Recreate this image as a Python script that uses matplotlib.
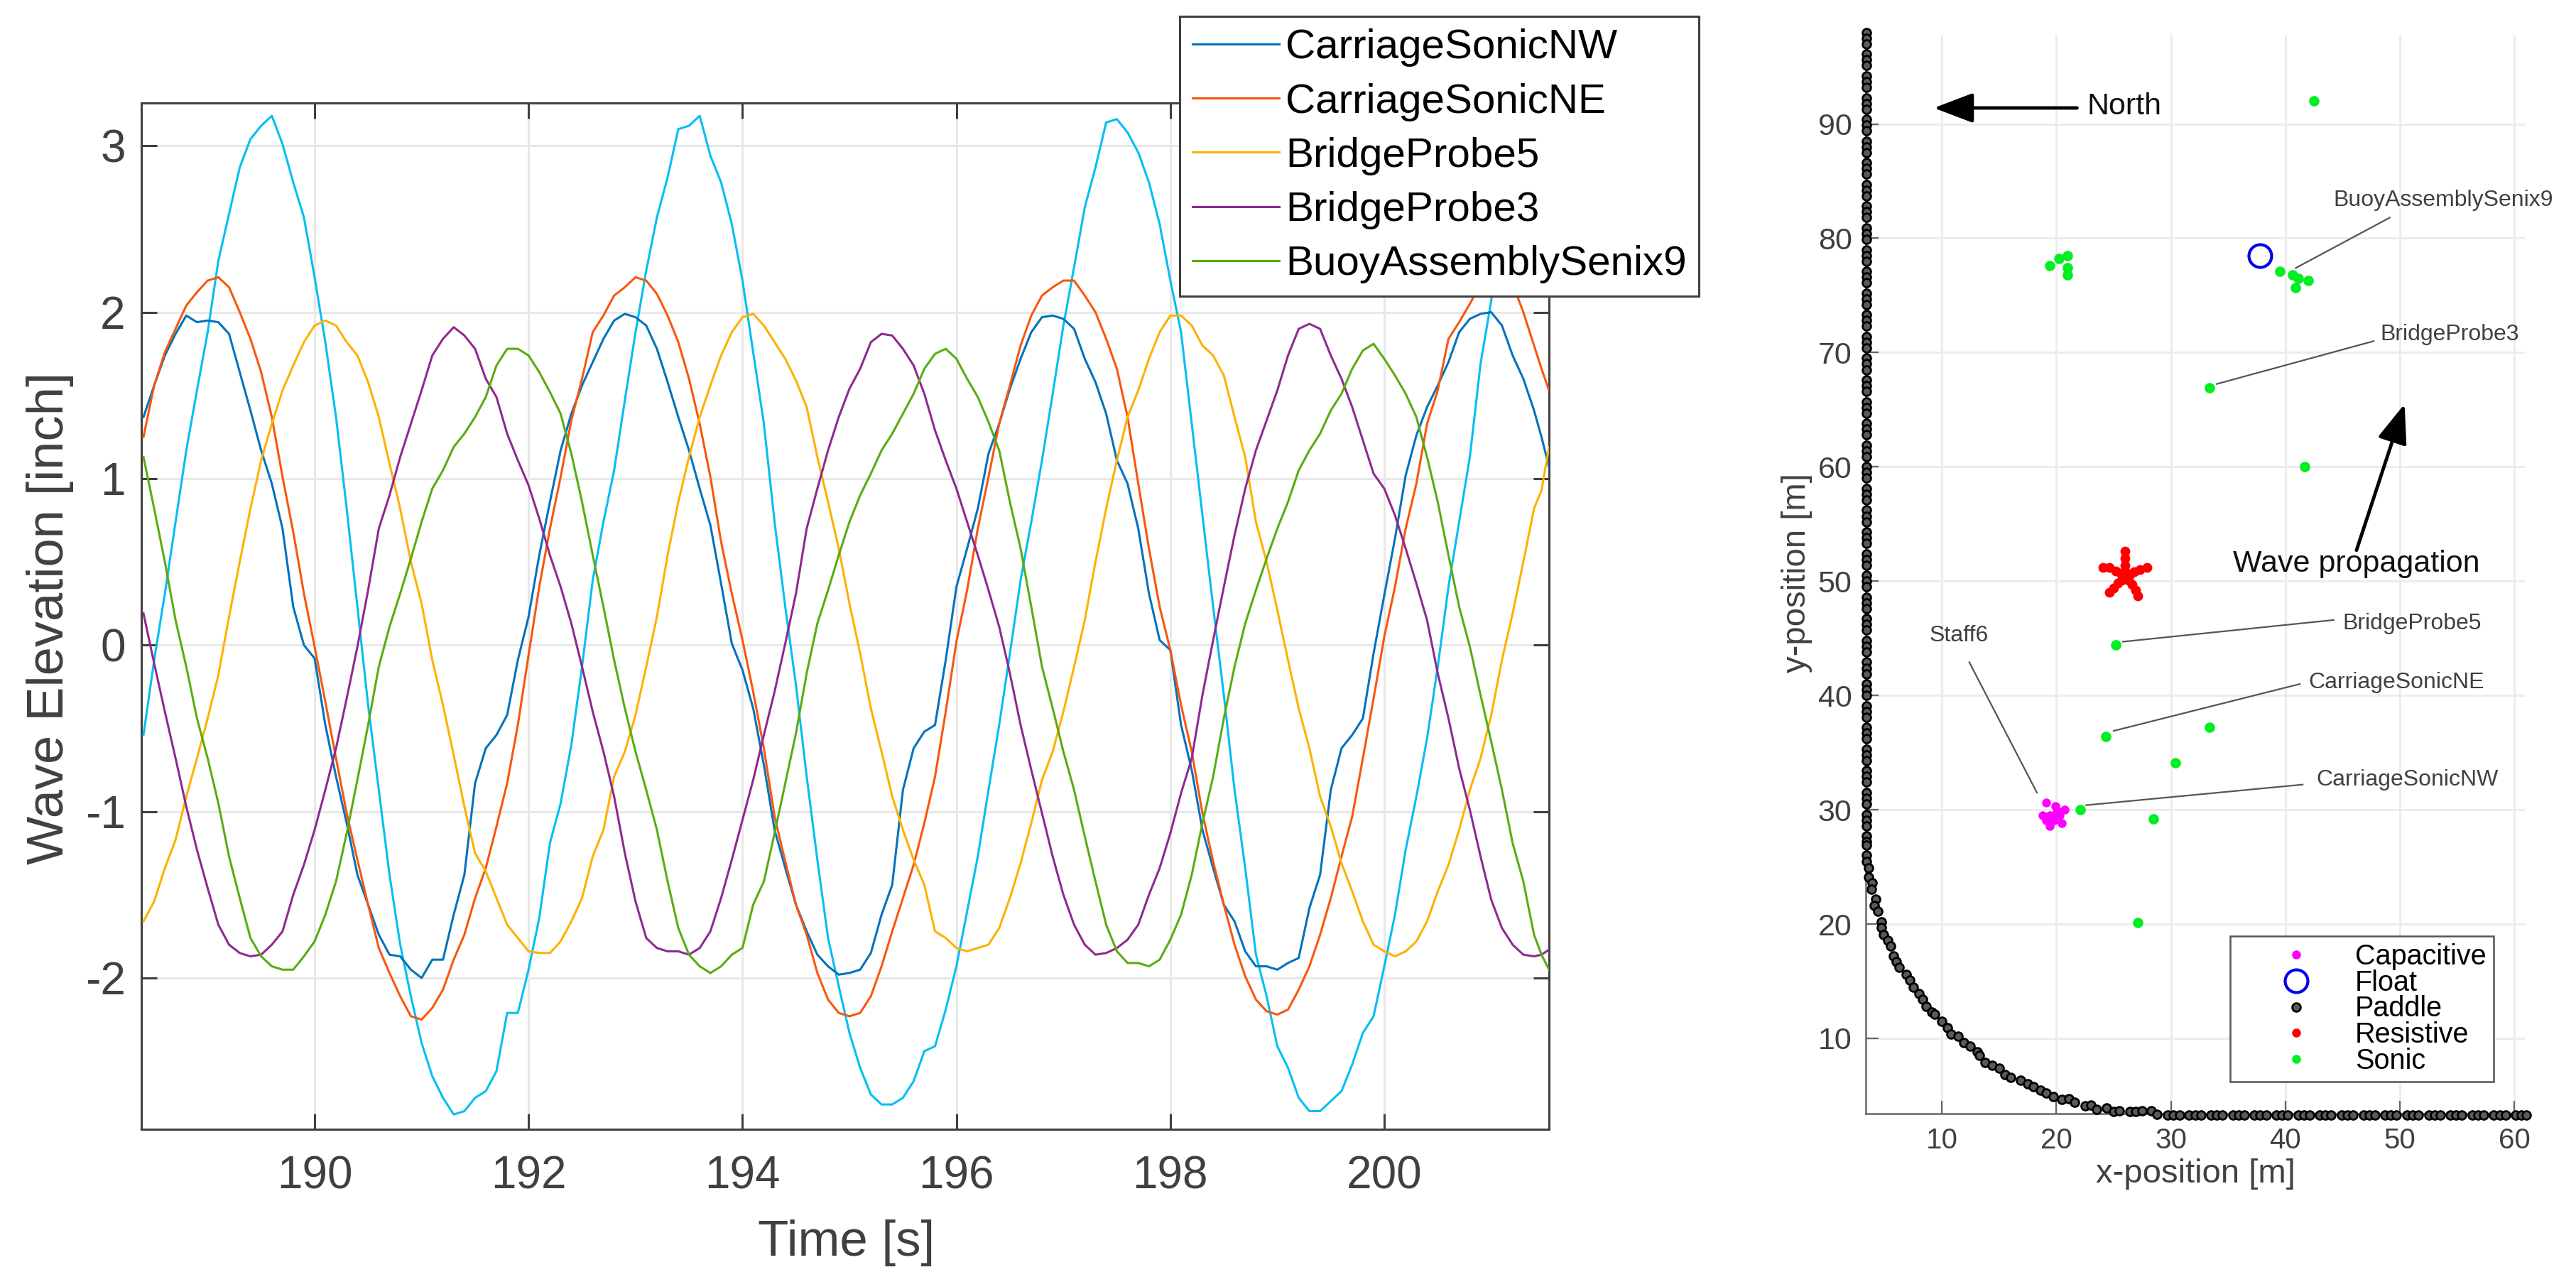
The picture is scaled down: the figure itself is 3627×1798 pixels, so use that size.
import matplotlib
matplotlib.use('Agg')
import matplotlib.pyplot as plt
from matplotlib.lines import Line2D

W, H = 3627, 1798
GRAY = '#404040'
GRID = '#e8e8e8'

plt.rcParams['font.family'] = ['Liberation Sans', 'DejaVu Sans']
plt.rcParams['axes.unicode_minus'] = False

# left panel: *_a on the even 0.2 s grid, *_b halfway between
t_a = [188.4, 188.6, 188.8, 189.0, 189.2, 189.4, 189.6, 189.8, 190.0, 190.2, 190.4, 190.6, 190.8, 191.0, 191.2, 191.4, 191.6, 191.8,
       192.0, 192.2, 192.4, 192.6, 192.8, 193.0, 193.2, 193.4, 193.6, 193.8, 194.0, 194.2, 194.4, 194.6, 194.8, 195.0, 195.2, 195.4, 195.6, 195.8,
       196.0, 196.2, 196.4, 196.6, 196.8, 197.0, 197.2, 197.4, 197.6, 197.8, 198.0, 198.2, 198.4, 198.6, 198.8, 199.0, 199.2, 199.4, 199.6, 199.8,
       200.0, 200.2, 200.4, 200.6, 200.8, 201.0, 201.2, 201.4, 201.54]
t_b = [188.5, 188.7, 188.9, 189.1, 189.3, 189.5, 189.7, 189.9, 190.1, 190.3, 190.5, 190.7, 190.9, 191.1, 191.3, 191.5, 191.7, 191.9,
       192.1, 192.3, 192.5, 192.7, 192.9, 193.1, 193.3, 193.5, 193.7, 193.9, 194.1, 194.3, 194.5, 194.7, 194.9, 195.1, 195.3, 195.5, 195.7, 195.9,
       196.1, 196.3, 196.5, 196.7, 196.9, 197.1, 197.3, 197.5, 197.7, 197.9, 198.1, 198.3, 198.5, 198.7, 198.9, 199.1, 199.3, 199.5, 199.7, 199.9,
       200.1, 200.3, 200.5, 200.7, 200.9, 201.1, 201.3, 201.47]

sonic_nw_a = [1.37, 1.74, 1.98, 1.95, 1.87, 1.41, 0.97, 0.23, -0.08, -0.79, -1.38, -1.74, -1.87, -2.0, -1.89, -1.38, -0.62, -0.42,
              0.17, 0.86, 1.39, 1.70, 1.95, 1.97, 1.78, 1.37, 0.94, 0.37, -0.15, -0.72, -1.34, -1.72, -1.93, -1.97, -1.85, -1.44, -0.62, -0.48,
              0.35, 0.82, 1.33, 1.72, 1.97, 1.96, 1.72, 1.39, 0.97, 0.31, -0.03, -0.75, -1.34, -1.66, -1.93, -1.95, -1.88, -1.38, -0.62, -0.44,
              0.30, 1.02, 1.43, 1.70, 1.96, 2.00, 1.74, 1.41, 1.07]
sonic_nw_b = [1.56, 1.87, 1.94, 1.94, 1.64, 1.17, 0.70, 0.00, -0.48, -1.07, -1.56, -1.86, -1.95, -1.89, -1.62, -0.83, -0.54, -0.09,
              0.54, 1.17, 1.56, 1.84, 1.99, 1.92, 1.58, 1.17, 0.72, 0.01, -0.38, -1.11, -1.56, -1.86, -1.98, -1.95, -1.62, -0.87, -0.52, -0.09,
              0.58, 1.15, 1.54, 1.88, 1.98, 1.90, 1.58, 1.11, 0.70, 0.03, -0.48, -1.11, -1.56, -1.84, -1.93, -1.91, -1.58, -0.87, -0.54, -0.05,
              0.64, 1.26, 1.56, 1.88, 1.99, 1.92, 1.60, 1.25]
sonic_ne_a = [1.25, 1.76, 2.04, 2.19, 2.15, 1.84, 1.37, 0.68, -0.01, -0.68, -1.29, -1.82, -2.11, -2.25, -2.07, -1.74, -1.34, -0.83,
              -0.06, 0.70, 1.35, 1.88, 2.10, 2.21, 2.11, 1.82, 1.33, 0.62, 0.03, -0.62, -1.30, -1.74, -2.13, -2.23, -2.11, -1.72, -1.32, -0.79,
              0.02, 0.70, 1.33, 1.80, 2.10, 2.19, 2.10, 1.84, 1.37, 0.58, -0.03, -0.64, -1.30, -1.80, -2.13, -2.22, -2.07, -1.74, -1.27, -0.68,
              0.05, 0.70, 1.33, 1.84, 2.05, 2.20, 2.17, 1.80, 1.53]
sonic_ne_b = [1.56, 1.90, 2.12, 2.21, 2.00, 1.64, 1.01, 0.31, -0.34, -1.01, -1.56, -1.97, -2.23, -2.18, -1.89, -1.52, -1.09, -0.48,
              0.35, 1.01, 1.60, 1.98, 2.15, 2.19, 1.98, 1.60, 1.01, 0.31, -0.28, -1.03, -1.56, -1.97, -2.21, -2.21, -1.93, -1.52, -1.07, -0.40,
              0.33, 1.01, 1.56, 1.98, 2.15, 2.19, 2.00, 1.66, 0.97, 0.23, -0.36, -1.01, -1.56, -1.99, -2.20, -2.19, -1.93, -1.52, -1.03, -0.32,
              0.35, 0.97, 1.53, 1.94, 2.17, 2.27, 2.00, 1.66]
probe5_a = [-1.66, -1.34, -0.91, -0.44, 0.17, 0.82, 1.33, 1.68, 1.92, 1.92, 1.74, 1.37, 0.82, 0.25, -0.36, -0.97, -1.36, -1.68,
            -1.84, -1.85, -1.66, -1.27, -0.79, -0.42, 0.17, 0.86, 1.37, 1.74, 1.97, 1.92, 1.72, 1.43, 0.86, 0.25, -0.38, -0.91, -1.29, -1.72,
            -1.82, -1.82, -1.70, -1.31, -0.81, -0.40, 0.15, 0.82, 1.37, 1.72, 1.98, 1.92, 1.74, 1.37, 0.74, 0.21, -0.38, -0.91, -1.31, -1.66,
            -1.84, -1.84, -1.66, -1.32, -0.87, -0.42, 0.19, 0.82, 1.19]
probe5_b = [-1.54, -1.17, -0.68, -0.18, 0.50, 1.11, 1.53, 1.82, 1.95, 1.82, 1.58, 1.09, 0.50, -0.09, -0.66, -1.25, -1.52, -1.76,
            -1.85, -1.78, -1.52, -1.11, -0.64, -0.13, 0.54, 1.13, 1.56, 1.88, 1.99, 1.82, 1.59, 1.13, 0.58, -0.05, -0.64, -1.11, -1.44, -1.76,
            -1.84, -1.80, -1.52, -1.07, -0.64, -0.13, 0.50, 1.11, 1.53, 1.88, 1.98, 1.80, 1.62, 1.13, 0.50, -0.09, -0.62, -1.09, -1.48, -1.80,
            -1.87, -1.78, -1.48, -1.11, -0.68, -0.09, 0.50, 0.93]
probe3_a = [0.19, -0.40, -0.97, -1.46, -1.80, -1.87, -1.80, -1.50, -1.11, -0.62, -0.01, 0.70, 1.13, 1.53, 1.84, 1.86, 1.60, 1.27,
            0.96, 0.54, 0.13, -0.40, -0.91, -1.54, -1.82, -1.84, -1.82, -1.52, -1.05, -0.54, 0.01, 0.70, 1.17, 1.54, 1.82, 1.86, 1.68, 1.29,
            0.94, 0.54, 0.11, -0.48, -1.01, -1.50, -1.80, -1.85, -1.77, -1.50, -1.13, -0.68, 0.03, 0.66, 1.17, 1.53, 1.90, 1.90, 1.60, 1.23,
            0.94, 0.58, 0.15, -0.44, -0.99, -1.53, -1.80, -1.87, -1.83]
probe3_b = [-0.11, -0.68, -1.23, -1.68, -1.85, -1.86, -1.72, -1.32, -0.87, -0.32, 0.33, 0.90, 1.33, 1.74, 1.91, 1.78, 1.49, 1.11,
            0.76, 0.35, -0.13, -0.64, -1.25, -1.76, -1.84, -1.86, -1.72, -1.29, -0.81, -0.28, 0.31, 0.94, 1.37, 1.66, 1.87, 1.78, 1.51, 1.11,
            0.74, 0.33, -0.17, -0.75, -1.27, -1.68, -1.86, -1.82, -1.68, -1.34, -0.89, -0.30, 0.35, 0.94, 1.35, 1.74, 1.93, 1.74, 1.43, 1.03,
            0.78, 0.37, -0.17, -0.74, -1.27, -1.70, -1.86, -1.86]
senix9_a = [1.13, 0.50, -0.13, -0.68, -1.27, -1.76, -1.93, -1.95, -1.78, -1.42, -0.81, -0.13, 0.31, 0.74, 1.05, 1.27, 1.49, 1.78,
            1.74, 1.52, 1.15, 0.54, -0.09, -0.64, -1.11, -1.70, -1.93, -1.93, -1.82, -1.42, -0.83, -0.17, 0.33, 0.74, 1.03, 1.27, 1.51, 1.75,
            1.72, 1.49, 1.17, 0.58, -0.13, -0.64, -1.15, -1.68, -1.91, -1.93, -1.77, -1.38, -0.79, -0.13, 0.33, 0.70, 1.05, 1.27, 1.51, 1.77,
            1.72, 1.51, 1.13, 0.54, -0.01, -0.58, -1.19, -1.74, -1.95]
senix9_b = [0.82, 0.15, -0.44, -0.95, -1.52, -1.87, -1.95, -1.87, -1.62, -1.13, -0.48, 0.11, 0.52, 0.94, 1.19, 1.37, 1.68, 1.78,
            1.64, 1.39, 0.86, 0.23, -0.38, -0.87, -1.42, -1.86, -1.97, -1.86, -1.56, -1.13, -0.53, 0.13, 0.54, 0.90, 1.17, 1.39, 1.66, 1.78,
            1.60, 1.34, 0.86, 0.23, -0.38, -0.87, -1.42, -1.84, -1.91, -1.89, -1.62, -1.07, -0.44, 0.13, 0.52, 0.86, 1.17, 1.41, 1.66, 1.81,
            1.62, 1.37, 0.86, 0.23, -0.30, -0.87, -1.42, -1.86]
staff6_a = [-0.54, 0.31, 1.17, 1.88, 2.59, 3.04, 3.18, 2.78, 2.21, 1.37, 0.23, -0.87, -1.80, -2.39, -2.72, -2.80, -2.68, -2.21,
            -1.95, -1.19, -0.60, 0.39, 1.05, 1.88, 2.57, 3.10, 3.18, 2.78, 2.19, 1.33, 0.23, -0.79, -1.76, -2.33, -2.70, -2.76, -2.62, -2.41,
            -1.93, -1.27, -0.48, 0.39, 1.11, 1.92, 2.63, 3.14, 3.08, 2.78, 2.19, 1.33, 0.23, -0.87, -1.86, -2.41, -2.72, -2.80, -2.68, -2.33,
            -1.93, -1.23, -0.56, 0.35, 1.13, 2.07, 2.80, 3.10, 3.18]
staff6_b = [-0.09, 0.74, 1.53, 2.31, 2.87, 3.12, 3.01, 2.57, 1.82, 0.82, -0.36, -1.38, -2.11, -2.59, -2.82, -2.72, -2.56, -2.21,
            -1.64, -0.95, -0.13, 0.74, 1.47, 2.25, 2.81, 3.12, 2.94, 2.53, 1.76, 0.74, -0.24, -1.29, -2.05, -2.54, -2.76, -2.72, -2.44, -2.19,
            -1.60, -0.87, -0.05, 0.74, 1.51, 2.27, 2.87, 3.16, 2.96, 2.53, 1.88, 0.78, -0.30, -1.34, -2.11, -2.54, -2.80, -2.74, -2.52, -2.23,
            -1.62, -0.91, -0.13, 0.74, 1.69, 2.60, 3.00, 3.15]

wave_names = ['CarriageSonicNW', 'CarriageSonicNE', 'BridgeProbe5', 'BridgeProbe3', 'BuoyAssemblySenix9']
wave_colors = ['#0072BD', '#F9560E', '#FDB100', '#8E2A90', '#5AAB12']
staff6_color = '#00BFF3'
x_ticks = [190, 192, 194, 196, 198, 200]
y_ticks = [-2, -1, 0, 1, 2, 3]

# right panel, gauge positions in metres
capacitive_x = [19.1, 19.9, 20.7, 20.2, 18.8, 19.4, 20.3, 19.1, 19.8, 20.5, 19.4, 20.0]
capacitive_y = [30.6, 30.3, 30.0, 29.8, 29.5, 29.5, 29.5, 29.1, 29.1, 28.8, 28.6, 29.7]
float_x = [37.8]
float_y = [78.5]
resistive_x = [26.0, 26.0, 26.0, 26.0, 26.0, 27.9, 27.3, 26.8, 26.4, 24.1, 24.6, 25.2, 25.6, 27.1, 26.9, 26.6, 26.3, 24.6, 25.0, 25.4, 25.7]
resistive_y = [50.5, 52.6, 52.0, 51.4, 50.9, 51.2, 51.0, 50.8, 50.6, 51.2, 51.2, 50.9, 50.7, 48.7, 49.2, 49.7, 50.1, 49.0, 49.4, 49.8, 50.1]
sonic_x = [42.5, 19.4, 20.2, 21.0, 21.0, 21.0, 39.5, 40.6, 41.1, 42.0, 40.9, 33.4, 41.7, 25.2, 24.3, 33.4, 30.4, 22.1, 28.5, 27.1]
sonic_y = [92.0, 77.6, 78.2, 78.5, 77.4, 76.8, 77.1, 76.8, 76.5, 76.3, 75.7, 66.9, 60.0, 44.4, 36.4, 37.2, 34.1, 30.0, 29.2, 20.1]
wall_y = [98.0, 97.5, 97.0, 96.1, 95.6, 95.1, 94.2, 93.7, 93.2, 92.3, 91.8, 91.3, 90.4, 89.9, 89.4, 88.5, 88.0, 87.5, 86.6, 86.1, 85.6,
          84.7, 84.2, 83.7, 82.8, 82.3, 81.8, 80.9, 80.4, 79.9, 79.0, 78.5, 78.0, 77.1, 76.6, 76.1, 75.2, 74.7, 74.2, 73.3, 72.8, 72.3,
          71.4, 70.9, 70.4, 69.5, 69.0, 68.5, 67.6, 67.1, 66.6, 65.7, 65.2, 64.7, 63.8, 63.3, 62.8, 61.9, 61.4, 60.9, 60.0, 59.5, 59.0,
          58.1, 57.6, 57.1, 56.2, 55.7, 55.2, 54.3, 53.8, 53.3, 52.4, 51.9, 51.4, 50.5, 50.0, 49.5, 48.6, 48.1, 47.6, 46.7, 46.2, 45.7,
          44.8, 44.3, 43.8, 42.9, 42.4, 41.9, 41.0, 40.5, 40.0, 39.1, 38.6, 38.1, 37.2, 36.7, 36.2, 35.3, 34.8, 34.3, 33.4, 32.9, 32.4,
          31.5, 31.0, 30.5, 29.6, 29.1, 28.6, 27.7, 27.2, 26.9, 26.0, 25.5]
curve_x = [3.6, 3.6, 3.9, 3.85, 4.2, 4.1, 4.4, 4.7, 4.7, 4.9, 5.3, 5.5, 5.8, 6.0, 6.3, 6.9, 7.2, 7.5, 8.0, 8.3, 8.6, 9.1, 9.4, 10.0, 10.5,
           10.8, 11.4, 11.9, 12.5, 13.1, 13.3, 13.8, 14.4, 15.0, 15.5, 16.0, 16.9, 17.5, 18.0, 18.6, 19.1, 19.7, 20.5, 21.1, 21.6, 22.5, 23.0,
           23.5, 24.4, 25.0, 25.5, 26.4, 26.9, 27.5, 28.3, 28.8]
curve_y = [24.9, 24.1, 23.6, 23.05, 22.2, 21.6, 21.1, 20.2, 19.7, 19.1, 18.6, 18.1, 17.2, 16.7, 16.2, 15.6, 15.1, 14.5, 13.9, 13.4, 12.8, 12.3,
           12.1, 11.5, 10.9, 10.4, 10.2, 9.6, 9.3, 8.8, 8.5, 7.9, 7.65, 7.4, 6.8, 6.6, 6.3, 6.05, 5.75, 5.45, 5.2, 4.9, 4.65, 4.7, 4.4, 4.1, 4.15,
           3.8, 3.9, 3.6, 3.65, 3.6, 3.6, 3.65, 3.65, 3.33]
floor_x = [29.7, 30.2, 30.75, 31.6, 32.1, 32.6, 33.5, 34.0, 34.5, 35.4, 35.9, 36.4, 37.3, 37.8, 38.3, 39.2, 39.7, 40.2, 41.1, 41.6, 42.1, 43.0,
           43.5, 44.0, 44.9, 45.4, 45.9, 46.8, 47.3, 47.8, 48.7, 49.2, 49.7, 50.6, 51.1, 51.6, 52.5, 53.0, 53.5, 54.4, 54.9, 55.4, 56.3, 56.8,
           57.3, 58.2, 58.7, 59.2, 60.1, 60.6, 61.0]
right_x_ticks = [10, 20, 30, 40, 50, 60]
right_y_ticks = [10, 20, 30, 40, 50, 60, 70, 80, 90]

# (text, left x, centre y, line start x, y, line end x, y)
gauge_notes = [
    ('BuoyAssemblySenix9', 44.2, 83.3, 49.1, 81.8, 40.9, 77.4),
    ('BridgeProbe3', 48.3, 71.6, 47.7, 71.0, 34.0, 67.25),
    ('BridgeProbe5', 45.0, 46.3, 44.2, 46.6, 25.8, 44.7),
    ('CarriageSonicNE', 42.0, 41.1, 41.25, 41.0, 25.0, 36.9),
    ('CarriageSonicNW', 42.7, 32.6, 41.5, 32.2, 22.6, 30.4),
    ('Staff6', 8.9, 45.2, 12.4, 42.9, 18.3, 31.5),
]


def px_box(left, top, right, bottom):
    return [left / W, 1 - bottom / H, (right - left) / W, (bottom - top) / H]


def weave(a, b):
    out = []
    for i in range(len(b)):
        out += [a[i], b[i]]
    return out + [a[-1]]


fig = plt.figure(figsize=(W / 100, H / 100), dpi=100)

# wave traces
t = weave(t_a, t_b)
ax = fig.add_axes(px_box(199, 145, 2181, 1590))
ax.plot(t, weave(staff6_a, staff6_b), color=staff6_color, lw=2.2, zorder=3)
series = [weave(sonic_nw_a, sonic_nw_b), weave(sonic_ne_a, sonic_ne_b), weave(probe5_a, probe5_b),
          weave(probe3_a, probe3_b), weave(senix9_a, senix9_b)]
for vals, name, col in zip(series, wave_names, wave_colors):
    ax.plot(t, vals, color=col, lw=2.2, label=name, zorder=3)
ax.set_xlim(188.38, 201.54)
ax.set_ylim(-2.909, 3.257)
ax.set_xticks(x_ticks)
ax.set_yticks(y_ticks)
ax.grid(True, color=GRID, lw=2.2)
ax.set_axisbelow(True)
ax.tick_params(direction='in', length=16, width=2.2, color=GRAY, labelcolor=GRAY, top=True, right=True, labelsize=46)
ax.tick_params(axis='x', pad=26)
ax.tick_params(axis='y', pad=16)
for s in ax.spines.values():
    s.set_color(GRAY)
    s.set_linewidth(2.2)
fig.text(70 / W, 1 - 870 / H, 'Wave Elevation [inch]', rotation=90, fontsize=52, color=GRAY, ha='center', va='center')
fig.text(1192 / W, 1 - 1750 / H, 'Time [s]', fontsize=51, color=GRAY, ha='center', va='center')
leg = ax.legend(loc='upper left', bbox_to_anchor=(1661 / W, 1 - 23 / H), bbox_transform=fig.transFigure, fontsize=42,
                fancybox=False, framealpha=1, edgecolor=GRAY, borderaxespad=0, borderpad=0.3, labelspacing=0.38,
                handlelength=2.1, handletextpad=0.16)
leg.get_frame().set_linewidth(2.2)
leg.set_zorder(10)

# gauge layout
paddle_style = dict(ls='none', marker='o', mfc='#5a5a5a', mec='black', mew=2.0, ms=8.5)
ax2 = fig.add_axes(px_box(2627, 49, 3555, 1568))
ax2.plot(capacitive_x, capacitive_y, 'o', color='#ff00ff', ms=8, label='Capacitive', clip_on=False, zorder=4)
ax2.plot(float_x, float_y, 'o', mfc='none', mec='#0000ee', mew=3, ms=23, label='Float', clip_on=False, zorder=4)
ax2.plot([3.4] * len(wall_y) + curve_x + floor_x, wall_y + curve_y + [3.3] * len(floor_x), label='Paddle', clip_on=False, zorder=4,
         **paddle_style)
ax2.plot(resistive_x, resistive_y, 'o', color='#ff0000', ms=9, label='Resistive', clip_on=False, zorder=4)
ax2.plot(sonic_x, sonic_y, 'o', color='#00ee22', ms=9.5, label='Sonic', clip_on=False, zorder=4)
ax2.set_xlim(3.36, 60.9)
ax2.set_ylim(3.41, 97.8)
ax2.set_xticks(right_x_ticks)
ax2.set_yticks(right_y_ticks)
ax2.grid(True, color='#ececec', lw=2.2)
ax2.set_axisbelow(True)
ax2.tick_params(direction='in', length=13, width=1.6, color='#666666', labelcolor=GRAY)
ax2.tick_params(axis='x', labelsize=29, pad=14)
ax2.tick_params(axis='y', labelsize=31, pad=14)
ax2.spines['top'].set_visible(False)
ax2.spines['right'].set_visible(False)
ax2.spines['left'].set_color('#666666')
ax2.spines['bottom'].set_color('#666666')
ax2.spines['left'].set_linewidth(1.8)
ax2.spines['bottom'].set_linewidth(1.8)
fig.text(2530 / W, 1 - 807 / H, 'y-position [m]', rotation=90, fontsize=34, color=GRAY, ha='center', va='center')
fig.text(3091 / W, 1 - 1653 / H, 'x-position [m]', fontsize=34, color=GRAY, ha='center', va='center')

for note, tx, ty, x0, y0, x1, y1 in gauge_notes:
    ax2.text(tx, ty, note, fontsize=23, color=GRAY, ha='left', va='center')
    ax2.plot([x0, x1], [y0, y1], color='#555555', lw=1.6, zorder=3)

arrow_style = dict(arrowstyle='-|>,head_length=1.0,head_width=0.38', color='black', lw=3.5, shrinkA=0, shrinkB=0, mutation_scale=34)
ax2.annotate('', xy=(9.3, 91.4), xytext=(21.8, 91.4), arrowprops=arrow_style)
ax2.annotate('', xy=(50.4, 65.5), xytext=(46.2, 52.7), arrowprops=arrow_style)
ax2.text(22.7, 91.5, 'North', fontsize=31, color='#111111', ha='left', va='center')
ax2.text(46.2, 51.5, 'Wave propagation', fontsize=31, color='#111111', ha='center', va='center')

handles = [
    Line2D([], [], ls='none', marker='o', color='#ff00ff', ms=8),
    Line2D([], [], ls='none', marker='o', mfc='none', mec='#0000ee', mew=3, ms=23),
    Line2D([], [], **paddle_style),
    Line2D([], [], ls='none', marker='o', color='#ff0000', ms=8),
    Line2D([], [], ls='none', marker='o', color='#00ee22', ms=8),
]
leg2 = ax2.legend(handles, ['Capacitive', 'Float', 'Paddle', 'Resistive', 'Sonic'], loc='lower left',
                  bbox_to_anchor=(3140 / W, 1 - 1523 / H), bbox_transform=fig.transFigure, fontsize=28.5, fancybox=False,
                  framealpha=1, edgecolor='#555555', borderaxespad=0, borderpad=0.25, labelspacing=-0.03,
                  handlelength=4.2, handletextpad=0.0)
leg2.get_frame().set_linewidth(1.8)
leg2.set_zorder(10)

fig.savefig('out.png', dpi=100, facecolor='white')
